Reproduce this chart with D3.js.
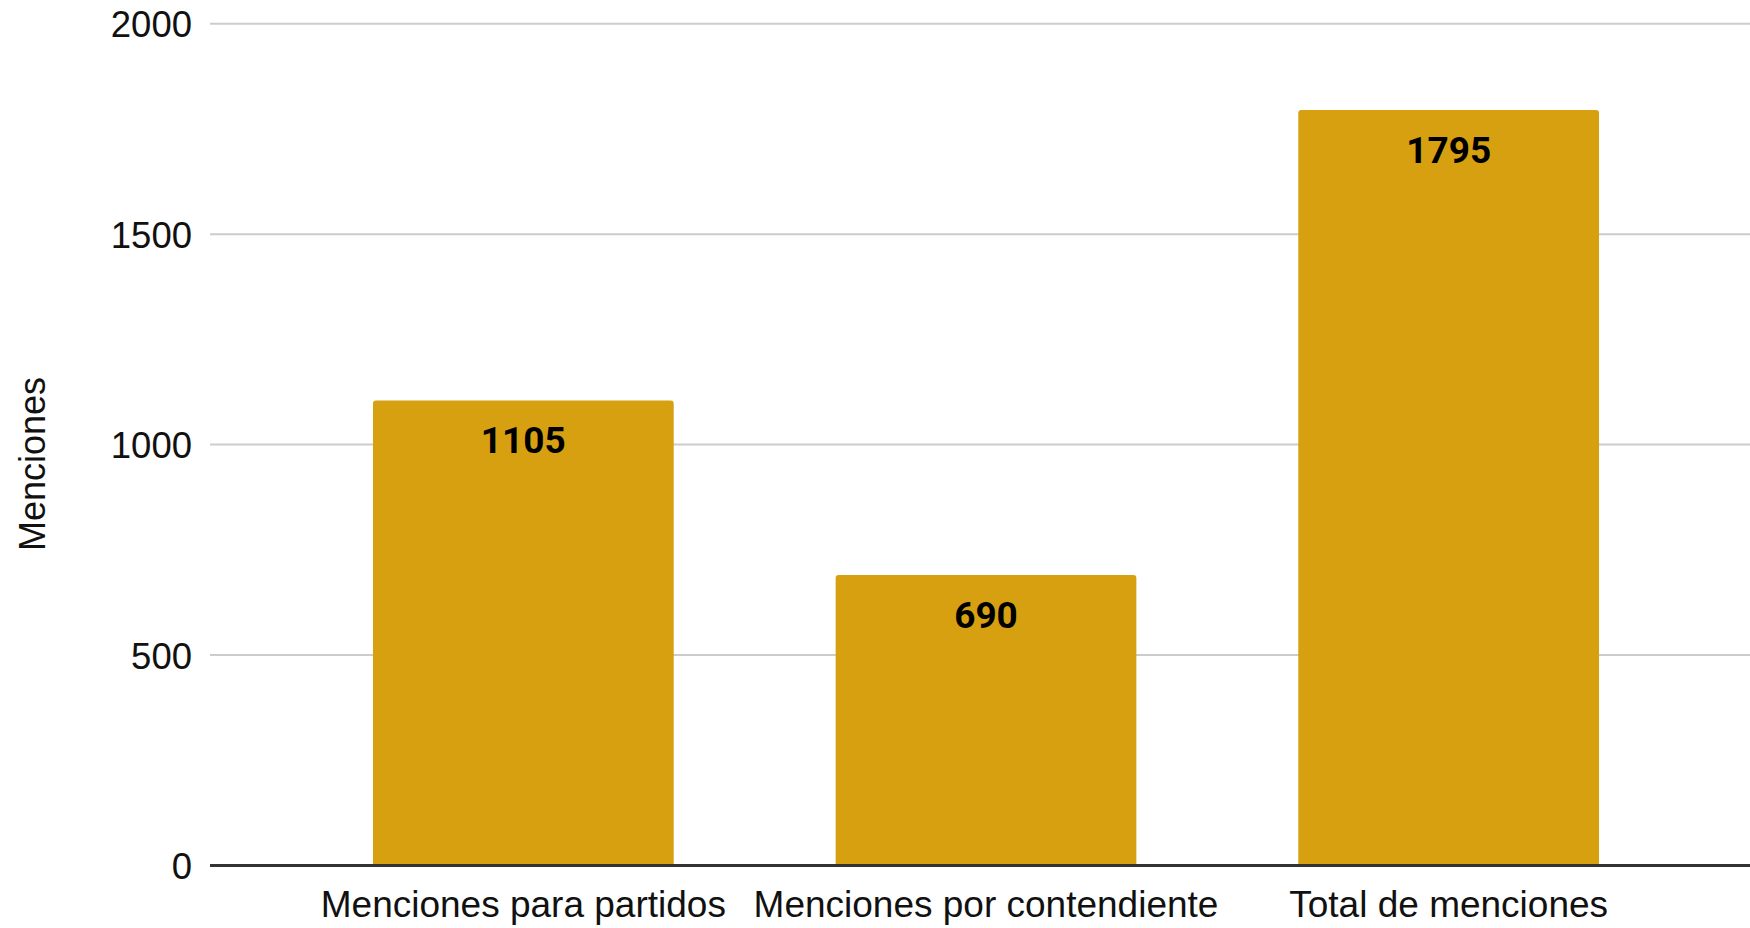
<!DOCTYPE html>
<html>
<head>
<meta charset="utf-8">
<script src="https://cdn.jsdelivr.net/npm/d3@7"></script>
<style>
  html, body { margin: 0; padding: 0; background: #ffffff; }
  svg { display: block; }
</style>
</head>
<body>
<script>
// Chart data
const categories = ["Menciones para partidos", "Menciones por contendiente", "Total de menciones"];
const values = [1105, 690, 1795];
const yTicks = [0, 500, 1000, 1500, 2000];
const yTitle = "Menciones";

const W = 1750, H = 928;
const plotLeft = 210, plotRight = 1750;
const plotTop = 23.7, plotBottom = 865.5;
const barColor = "#d6a011";

const svg = d3.select("body").append("svg")
  .attr("width", W).attr("height", H);

const y = d3.scaleLinear().domain([0, 2000]).range([plotBottom, plotTop]);
const x = d3.scaleBand().domain(categories)
  .range([292, 1680]).paddingInner(0.35).paddingOuter(0.175);

// Horizontal gridlines (except baseline)
svg.append("g").selectAll("line")
  .data(yTicks.filter(t => t !== 0))
  .join("line")
  .attr("x1", plotLeft).attr("x2", plotRight)
  .attr("y1", d => y(d)).attr("y2", d => y(d))
  .attr("stroke", "#cccccc").attr("stroke-width", 2);

// Y tick labels
const yAxis = d3.axisLeft(y).tickValues(yTicks).tickFormat(d3.format("d")).tickSize(0).tickPadding(0);
const yg = svg.append("g").attr("transform", `translate(192,0)`).call(yAxis);
yg.select(".domain").remove();
yg.selectAll("text")
  .attr("font-family", "'Liberation Sans', Arial, sans-serif")
  .attr("font-size", 36.5)
  .attr("fill", "#111111")
  .attr("dy", "0.36em");

// Bars with slightly rounded top corners
const r = 3;
function barPath(d, i) {
  const x0 = x(categories[i]), w = x.bandwidth();
  const yt = y(d), yb = y(0);
  return `M${x0},${yb} V${yt + r} Q${x0},${yt} ${x0 + r},${yt} H${x0 + w - r} Q${x0 + w},${yt} ${x0 + w},${yt + r} V${yb} Z`;
}
svg.append("g").selectAll("path")
  .data(values)
  .join("path")
  .attr("d", (d, i) => barPath(d, i))
  .attr("fill", barColor);

// Value labels inside the bars
svg.append("g").selectAll("text")
  .data(values)
  .join("text")
  .attr("x", (d, i) => x(categories[i]) + x.bandwidth() / 2)
  .attr("y", d => y(d) + 53)
  .attr("text-anchor", "middle")
  .attr("font-family", "Roboto, 'Noto Sans', sans-serif")
  .attr("font-weight", "bold")
  .attr("font-size", 37)
  .attr("fill", "#000000")
  .text(d => d);

// Baseline
svg.append("line")
  .attr("x1", plotLeft).attr("x2", plotRight)
  .attr("y1", y(0)).attr("y2", y(0))
  .attr("stroke", "#333333").attr("stroke-width", 3);

// X category labels
const xAxis = d3.axisBottom(x).tickSize(0).tickPadding(0);
const xg = svg.append("g").attr("transform", `translate(0,917)`).call(xAxis);
xg.select(".domain").remove();
xg.selectAll("text")
  .attr("font-family", "'Liberation Sans', Arial, sans-serif")
  .attr("font-size", 37)
  .attr("fill", "#111111")
  .attr("dy", 0)
  .attr("y", 0);

// Y axis title
svg.append("text")
  .attr("transform", "translate(45,464) rotate(-90)")
  .attr("text-anchor", "middle")
  .attr("font-family", "'Liberation Sans', Arial, sans-serif")
  .attr("font-size", 36)
  .attr("fill", "#111111")
  .text(yTitle);
</script>
</body>
</html>
